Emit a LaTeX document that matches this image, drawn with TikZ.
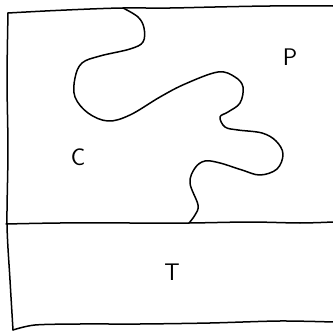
\documentclass[tikz,border=0pt]{standalone}
\usepackage{tikz}
\tikzset{
    sketch/.style={line width=1.5pt, line join=round, line cap=round},
    region/.style={font=\sffamily\fontsize{24}{28}\selectfont}
}

\begin{document}
\begin{tikzpicture}[x=1pt,y=-1pt]
        \useasboundingbox (0,0) rectangle (333,332);
        % Frame
            \draw[sketch] plot[smooth, tension=0.5] coordinates {(8,13) (45,11) (90,9) (123,8) (170,8) (215,7) (270,6) (333,6)};
            \draw[sketch] plot[smooth, tension=0.5] coordinates {(8,13) (7,80) (8,150) (7,224) (10,280) (13,330)};
            \draw[sketch] plot[smooth, tension=0.5] coordinates {(13,330) (35,325) (80,324) (140,324) (210,323) (280,321) (333,322)};
        % Dividing line
            \draw[sketch] plot[smooth, tension=0.5] coordinates {(6,224) (60,223) (130,223) (189,223) (250,222) (300,223) (333,222)};
        % Boundary between C and P
            \draw[sketch] plot[smooth, tension=0.6] coordinates {(123,8) (138,17) (144,28) (143,42) (130,49) (100,56) (82,63) (75,78) (75,97) (88,113) (108,121) (130,115) (160,97) (185,84) (218,72) (235,77) (243,87) (240,103) (228,112) (220,117) (225,127) (238,130) (262,133) (276,141) (283,154) (277,169) (260,175) (242,170) (220,163) (205,161) (195,168) (190,183) (198,205) (195,215) (189,223)};
        % Labels
            \node[region] (p) at (290,57) {P};
            \node[region] (c) at (78,157) {C};
            \node[region] (t) at (172,272) {T};
    \end{tikzpicture}
\end{document}
